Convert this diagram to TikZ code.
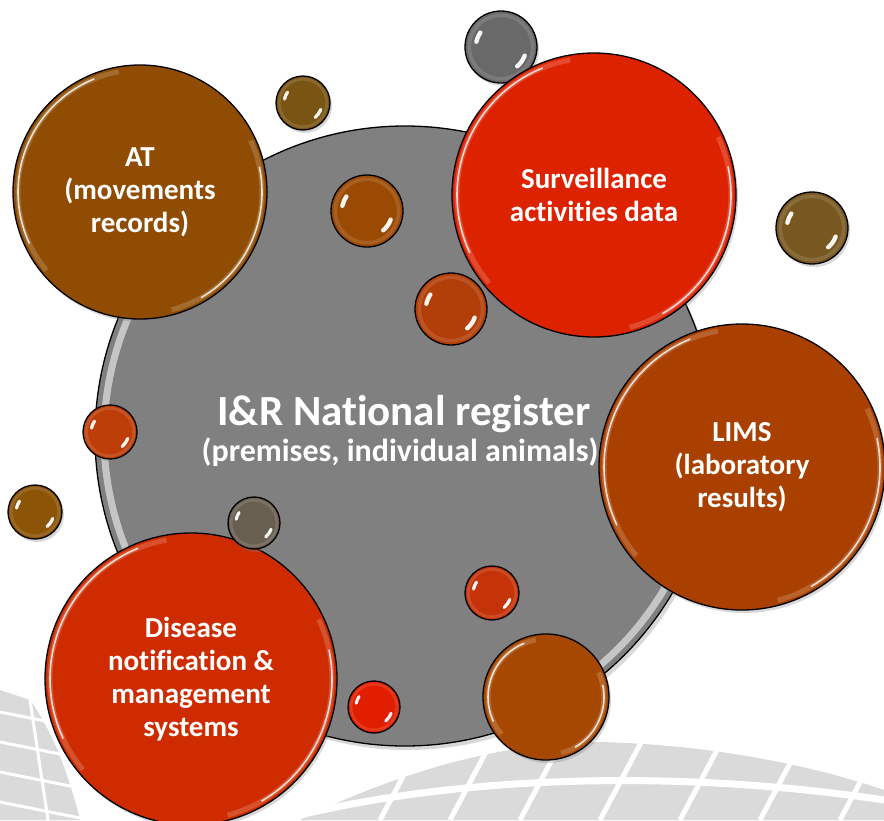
\documentclass[tikz,border=0pt]{standalone}
\usepackage{fontspec}
\setmainfont{Carlito}[Ligatures=CommonOff]
\usetikzlibrary{shadows}
\definecolor{cgray}{RGB}{128,128,128}
\definecolor{cAT}{RGB}{143,76,2}
\definecolor{cSurv}{RGB}{221,34,0}
\definecolor{cLIMS}{RGB}{170,64,0}
\definecolor{cDis}{RGB}{206,44,0}
\definecolor{cOlive}{RGB}{122,84,18}
\definecolor{cOliveB}{RGB}{120,88,32}
\definecolor{cBrown}{RGB}{155,74,4}
\definecolor{cOrange}{RGB}{178,62,8}
\definecolor{cBallGray}{RGB}{105,105,105}
\definecolor{cRedBrown}{RGB}{190,62,10}
\definecolor{cBrownL}{RGB}{140,84,6}
\definecolor{cGrayBrown}{RGB}{105,95,80}
\definecolor{cRedS}{RGB}{196,52,8}
\definecolor{cBrownBig}{RGB}{166,72,2}
\definecolor{cRed}{RGB}{226,30,0}
\definecolor{bgA}{RGB}{218,218,218}
\tikzset{
  ballst/.style={circle, draw=black, line width=1.3pt, inner sep=0pt,
    drop shadow={opacity=.3, shadow xshift=2pt, shadow yshift=-3pt}},
  lbl/.style={text=white, align=center, font=\bfseries}
}
% ball: name, x, y, r, colour
\newcommand\ball[5]{\node[ballst, fill=#5, minimum size=2*#4] (#1) at (#2,-#3) {};}
% gloss for big circles: name, radius
\newcommand\gloss[2]{%
  \draw[white, opacity=.18, line width=5] ([shift={(100:#2-5)}]#1.center) arc[start angle=100, end angle=220, radius=#2-5];
  \draw[white, opacity=.8, line width=1.6] ([shift={(112:#2-5)}]#1.center) arc[start angle=112, end angle=205, radius=#2-5];
  \draw[white, opacity=.18, line width=5] ([shift={(-75:#2-5)}]#1.center) arc[start angle=-75, end angle=25, radius=#2-5];
  \draw[white, opacity=.8, line width=1.6] ([shift={(-60:#2-5)}]#1.center) arc[start angle=-60, end angle=12, radius=#2-5];
}
% specular for small balls: name, radius
\newcommand\spec[2]{%
  \draw[white, opacity=.12, line width=#2*0.1] (#1.center) circle[radius=#2*0.88];
  \draw[white, opacity=.95, line width=#2*0.12, line cap=round] ([shift={(145:#2*0.7)}]#1.center) arc[start angle=145, end angle=168, radius=#2*0.7];
  \draw[white, opacity=.95, line width=#2*0.12, line cap=round] ([shift={(-20:#2*0.7)}]#1.center) arc[start angle=-20, end angle=-50, radius=#2*0.7];
}
% label: name, size, baselineskip, text
\newcommand\slabel[4]{%
  \node[lbl, font=\bfseries\fontsize{#2}{#3}\selectfont] (#1-txt) at (#1.center) {#4};
}
\begin{document}
\begin{tikzpicture}[x=1pt,y=1pt]
\useasboundingbox (0,0) rectangle (884,-820);
\fill[white] (0,0) rectangle (884,-820);
% background pattern
\begin{scope}
\clip (0,0) rectangle (884,-820);
\fill[bgA] (300,-820) .. controls (420,-762) and (520,-742) .. (600,-742) .. controls (720,-745) and (820,-768) .. (884,-790) -- (884,-820) -- cycle;
\foreach \x in {380,450,520,600,680,760,840} \draw[white, line width=5] (\x,-820) -- (\x+45,-735);
\draw[white, line width=7] (300,-815) .. controls (480,-772) and (700,-772) .. (884,-800);
\fill[bgA] (0,-690) -- (30,-700) .. controls (55,-735) and (70,-780) .. (80,-820) -- (0,-820) -- cycle;
\foreach \y in {712,742,772,802} \draw[white, line width=3] (0,-\y) -- (90,-\y-18);
\draw[white, line width=3] (30,-700) -- (48,-820);
\end{scope}
% main register circle
\node[circle, draw=black, line width=1.3pt, fill=cgray, minimum size=620, inner sep=0pt,
  drop shadow={opacity=.3, shadow xshift=3pt, shadow yshift=-4pt}] (reg) at (405,-436) {};
\draw[white, opacity=.55, line width=7] ([shift={(140:301)}]reg.center) arc[start angle=140, end angle=235, radius=301];
\draw[white, opacity=.55, line width=7] ([shift={(-28:301)}]reg.center) arc[start angle=-28, end angle=-62, radius=301];
% balls and circles, back to front
\ball{bgray}{501}{47}{36}{cBallGray} \spec{bgray}{36}
\ball{bolive}{303}{103}{27}{cOlive} \spec{bolive}{27}
\ball{at}{140}{192}{127}{cAT} \gloss{at}{127}
\ball{bbrown}{367}{211}{36}{cBrown} \spec{bbrown}{36}
\ball{surv}{594}{195}{142}{cSurv} \gloss{surv}{142}
\ball{borange}{451}{309}{36}{cOrange} \spec{borange}{36}
\ball{boliveb}{812}{228}{36}{cOliveB} \spec{boliveb}{36}
\ball{lims}{742}{467}{143}{cLIMS} \gloss{lims}{143}
\ball{bredbrown}{110}{432}{27}{cRedBrown} \spec{bredbrown}{27}
\ball{bbrownl}{35}{512}{27}{cBrownL} \spec{bbrownl}{27}
\ball{dis}{191}{679}{146}{cDis} \gloss{dis}{146}
\ball{bgraybrown}{254}{523}{26}{cGrayBrown} \spec{bgraybrown}{26}
\ball{breds}{492}{593}{27}{cRedS} \spec{breds}{27}
\ball{bbrownbig}{546}{697}{63}{cBrownBig} \gloss{bbrownbig}{63}
\ball{bred}{374}{707}{26}{cRed} \spec{bred}{26}
% labels
\node[lbl, font=\bfseries\fontsize{43}{47}\selectfont] (regt1) at (404,-414) {I\&R National register};
\node[lbl, font=\bfseries\fontsize{32}{36}\selectfont] (regt2) at (400,-452) {(premises, individual animals)};
\slabel{at}{29}{33}{AT\\(movements\\records)}
\slabel{surv}{29}{33}{Surveillance\\activities data}
\slabel{lims}{29}{33}{LIMS\\(laboratory\\results)}
\slabel{dis}{29}{33}{Disease\\notification \&\\management\\systems}
\end{tikzpicture}
\end{document}
